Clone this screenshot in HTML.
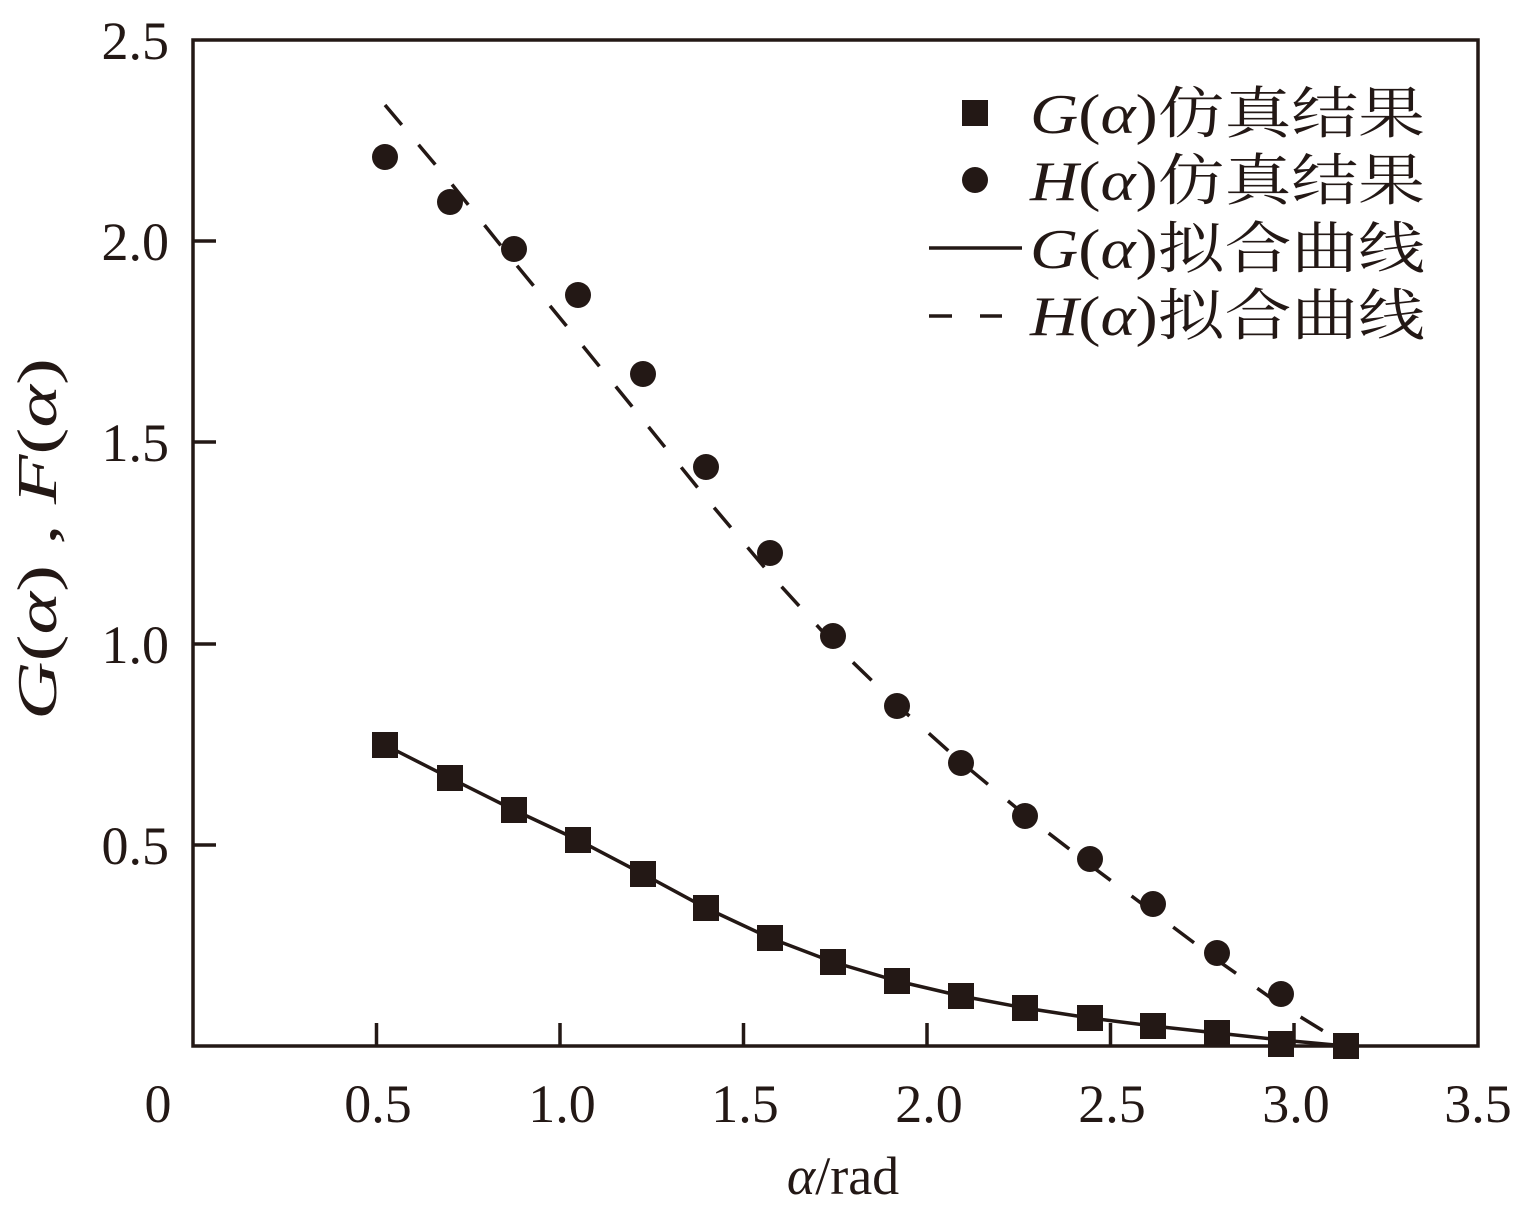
<!DOCTYPE html>
<html><head><meta charset="utf-8"><style>body{margin:0;background:#fff}</style></head><body>
<svg width="1531" height="1214" viewBox="0 0 1531 1214" xmlns="http://www.w3.org/2000/svg" font-family="Liberation Serif, 'Noto Serif CJK SC', serif" fill="#231815">
<g stroke="#231815" stroke-width="3.5" fill="none">
<rect x="193" y="40" width="1285" height="1006"/>
<path d="M376.5 1046v-23M560 1046v-23M743.5 1046v-23M927 1046v-23M1110.5 1046v-23M1294 1046v-23M193 845h23M193 644h23M193 442h23M193 241h23"/>
<polyline points="385,745 450,778 514,810 578,840 643,874 706,908 770,938 833,962 897,981 961,996 1025,1008 1090,1018 1153,1026 1217,1033 1281,1040 1346,1046"/>
<polyline stroke-dasharray="26,26" points="385,105 450,182 514,262 578,340 643,420 706,498 770,574 833,643 897,705 961,762 1025,815 1090,865 1153,912 1217,960 1281,1005 1330,1035"/>
<line x1="929" y1="248" x2="1022" y2="248"/>
<line x1="929" y1="316" x2="1002" y2="316" stroke-dasharray="23,28"/>
</g>
<g>
<rect x="372" y="732" width="26" height="26"/><rect x="437" y="765" width="26" height="26"/><rect x="501" y="797" width="26" height="26"/><rect x="565" y="827" width="26" height="26"/><rect x="630" y="861" width="26" height="26"/><rect x="693" y="895" width="26" height="26"/><rect x="757" y="925" width="26" height="26"/><rect x="820" y="949" width="26" height="26"/><rect x="884" y="968" width="26" height="26"/><rect x="948" y="983" width="26" height="26"/><rect x="1012" y="995" width="26" height="26"/><rect x="1077" y="1005" width="26" height="26"/><rect x="1140" y="1013" width="26" height="26"/><rect x="1204" y="1020" width="26" height="26"/><rect x="1268" y="1031" width="26" height="26"/><rect x="1333" y="1033" width="26" height="26"/>
<rect x="962" y="100" width="26" height="26"/>
</g>
<g>
<circle cx="385" cy="157" r="13"/><circle cx="450" cy="202" r="13"/><circle cx="514" cy="249" r="13"/><circle cx="578" cy="295" r="13"/><circle cx="643" cy="374" r="13"/><circle cx="706" cy="467" r="13"/><circle cx="770" cy="553" r="13"/><circle cx="833" cy="636" r="13"/><circle cx="897" cy="706" r="13"/><circle cx="961" cy="763" r="13"/><circle cx="1025" cy="816" r="13"/><circle cx="1090" cy="859" r="13"/><circle cx="1153" cy="904" r="13"/><circle cx="1217" cy="953" r="13"/><circle cx="1281" cy="994" r="13"/>
<circle cx="975" cy="180" r="13"/>
</g>
<g font-size="56">
<text x="1030" y="133" textLength="395" lengthAdjust="spacingAndGlyphs"><tspan font-style="italic">G</tspan>(<tspan font-style="italic">α</tspan>)仿真结果</text>
<text x="1030" y="200" textLength="395" lengthAdjust="spacingAndGlyphs"><tspan font-style="italic">H</tspan>(<tspan font-style="italic">α</tspan>)仿真结果</text>
<text x="1030" y="268" textLength="395" lengthAdjust="spacingAndGlyphs"><tspan font-style="italic">G</tspan>(<tspan font-style="italic">α</tspan>)拟合曲线</text>
<text x="1030" y="335" textLength="395" lengthAdjust="spacingAndGlyphs"><tspan font-style="italic">H</tspan>(<tspan font-style="italic">α</tspan>)拟合曲线</text>
</g>
<g font-size="54" text-anchor="middle">
<text x="158" y="1122">0</text><text x="378" y="1122">0.5</text><text x="562" y="1122">1.0</text><text x="745" y="1122">1.5</text><text x="929" y="1122">2.0</text><text x="1112" y="1122">2.5</text><text x="1296" y="1122">3.0</text><text x="1478" y="1122">3.5</text>
<text x="843" y="1194"><tspan font-style="italic">α</tspan>/rad</text>
</g>
<g font-size="54" text-anchor="end">
<text x="169" y="59">2.5</text><text x="169" y="260">2.0</text><text x="169" y="461">1.5</text><text x="169" y="663">1.0</text><text x="169" y="864">0.5</text>
</g>
<text font-size="56" x="0" y="0" transform="translate(56,720) rotate(-90)" textLength="362" lengthAdjust="spacingAndGlyphs"><tspan font-style="italic">G</tspan>(<tspan font-style="italic">α</tspan>) , <tspan font-style="italic">F</tspan>(<tspan font-style="italic">α</tspan>)</text>
</svg>
</body></html>
